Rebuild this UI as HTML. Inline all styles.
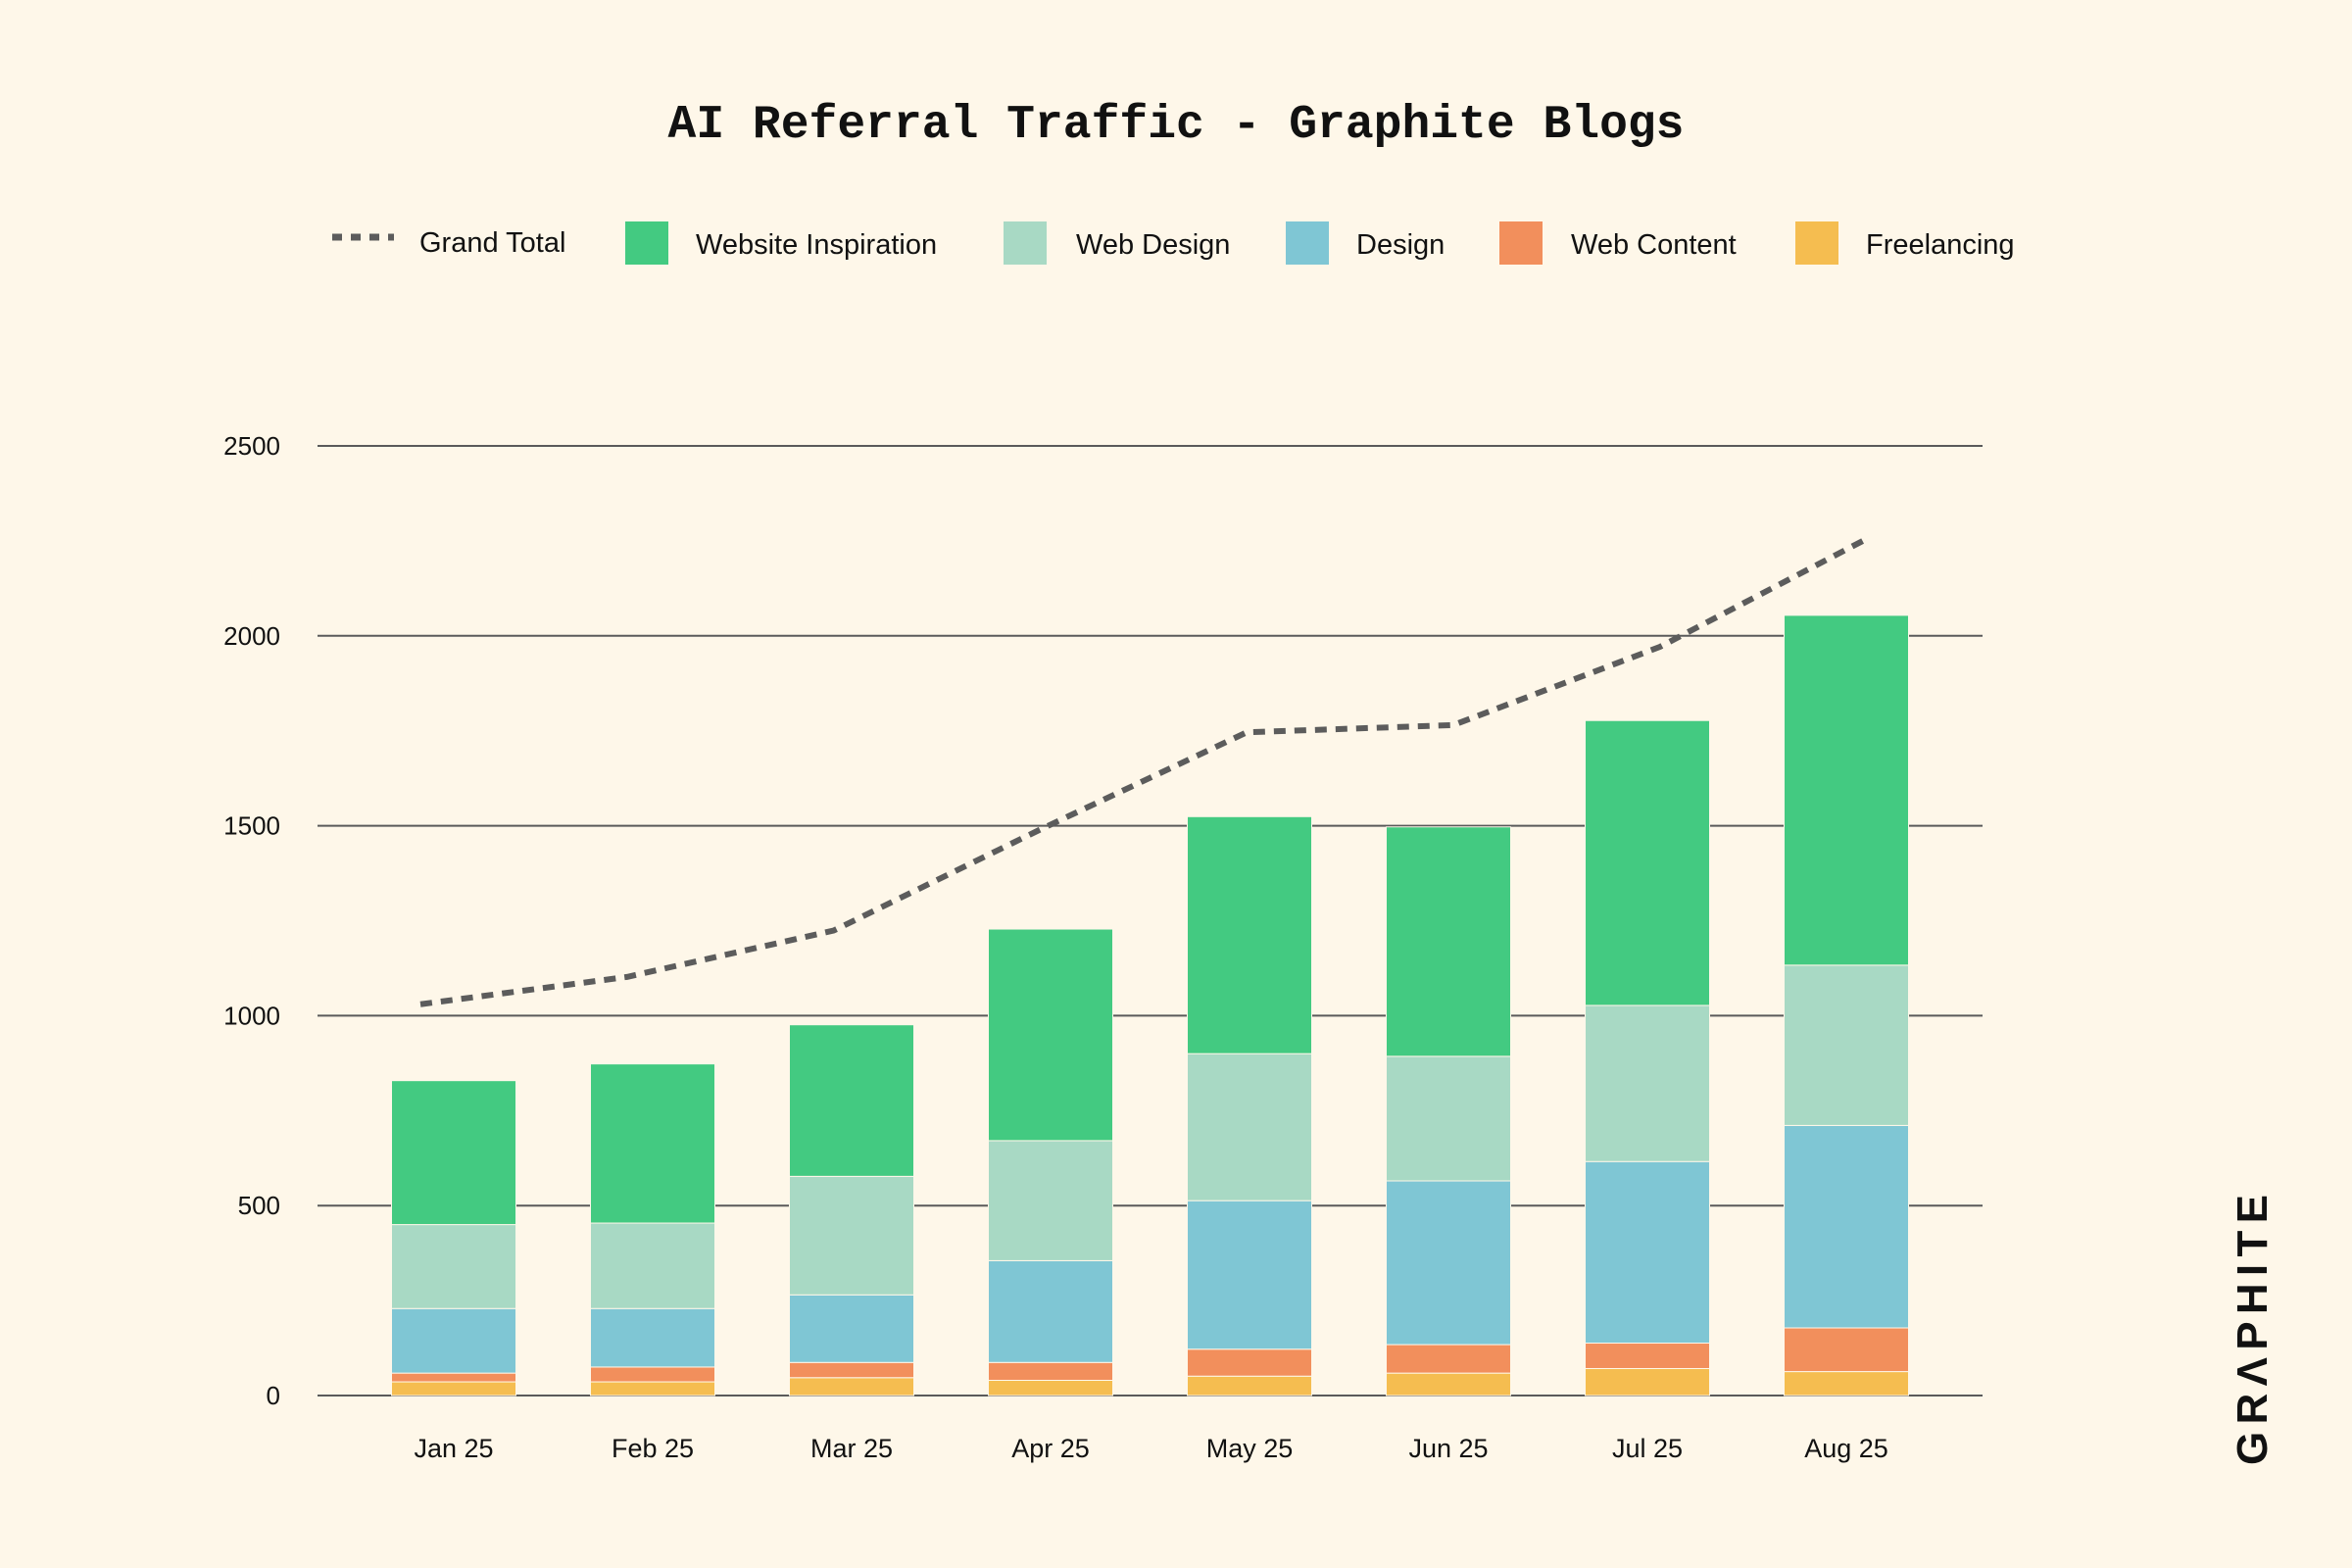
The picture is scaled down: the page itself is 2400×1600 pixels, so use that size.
<!DOCTYPE html>
<html><head><meta charset="utf-8"><style>
html,body{margin:0;padding:0;background:#fef7e9;}
svg{display:block;}
text{font-family:"Liberation Sans",sans-serif;}
</style></head><body>
<svg id="chart" width="2400" height="1600" viewBox="0 0 2400 1600" xmlns="http://www.w3.org/2000/svg">
<rect width="2400" height="1600" fill="#fef7e9"/>
<text x="1200" y="140" text-anchor="middle" font-weight="bold" font-size="48" fill="#111" style="font-family:'Liberation Mono',monospace">AI Referral Traffic - Graphite Blogs</text>
<g id="legend"></g>
<g id="grid"></g>
<g id="bars"></g>
<g id="line"></g>
<g id="xlabels"></g>
<text transform="translate(2313,1357) rotate(-90)" text-anchor="middle" font-weight="bold" font-size="44" fill="#111" textLength="276" lengthAdjust="spacing">GRΛPHITE</text>
</svg>
<script>
const categories = ["Jan 25","Feb 25","Mar 25","Apr 25","May 25","Jun 25","Jul 25","Aug 25"];
const freelancing = [36,36,47,40,51,59,71,63];
const webContent = [23,39,40,47,71,75,67,115];
const design = [170,154,178,268,391,431,478,533];
const webDesign = [221,225,312,316,387,328,411,422];
const websiteInspiration = [379,419,399,557,624,604,750,921];
const grandTotal = [1030,1102,1224,1490,1746,1765,1971,2255];
const yTicks = [0,500,1000,1500,2000,2500];

const NS="http://www.w3.org/2000/svg";
function mk(tag,attrs,parent){const e=document.createElementNS(NS,tag);for(const k in attrs)e.setAttribute(k,attrs[k]);parent.appendChild(e);return e;}
const x0=324,x1=2023,yBase=1424,yTop=455,yMax=2500;
const yScale=v=>yBase-(v/yMax)*(yBase-yTop);
const step=203;
const xCenter=i=>463+step*i;
const xLine=i=>429+210.8*i;
const barW=127;

const grid=document.getElementById('grid');
yTicks.forEach(t=>{
  const l=mk('line',{x1:x0,x2:x1,y1:yScale(t),y2:yScale(t),stroke:'#5a5a5a','stroke-width':2},grid);
  
  
  const tx=mk('text',{x:286,y:yScale(t)+9,'text-anchor':'end','font-size':26,fill:'#111'},grid);
  tx.textContent=t;
  
  
});

const series=[
  {name:'freelancing',vals:freelancing,color:'#f5bd50'},
  {name:'web-content',vals:webContent,color:'#f28f5c'},
  {name:'design',vals:design,color:'#7fc6d4'},
  {name:'web-design',vals:webDesign,color:'#a8d9c4'},
  {name:'website-inspiration',vals:websiteInspiration,color:'#43ca81'}
];
const bars=document.getElementById('bars');
const xl=document.getElementById('xlabels');
categories.forEach((c,i)=>{
  let cum=0;
  series.forEach(s=>{
    const v=s.vals[i];
    const yT=yScale(cum+v),yB=yScale(cum);
    const r=mk('rect',{x:xCenter(i)-barW/2,y:yT,width:barW,height:yB-yT,fill:s.color,stroke:'#fef7e9','stroke-width':1},bars);
    
    
    cum+=v;
  });
  const t=mk('text',{x:xCenter(i),y:1487,'text-anchor':'middle','font-size':27,fill:'#111'},xl);
  t.textContent=c;
  
  
});

const lg=document.getElementById('line');
const pts=grandTotal.map((v,i)=>xLine(i)+','+yScale(v)).join(' ');
const pl=mk('polyline',{points:pts,fill:'none',stroke:'#5c5c5c','stroke-width':6,'stroke-dasharray':'12 9'},lg);



const leg=document.getElementById('legend');
const ld=mk('line',{x1:339,x2:402,y1:242,y2:242,stroke:'#5c5c5c','stroke-width':7,'stroke-dasharray':'10 9'},leg);


const lt0=mk('text',{x:428,y:257,'font-size':29,fill:'#111'},leg);
lt0.textContent='Grand Total';


const legItems=[
  {label:'Website Inspiration',color:'#43ca81',sx:638,tx:710},
  {label:'Web Design',color:'#a8d9c4',sx:1024,tx:1098},
  {label:'Design',color:'#7fc6d4',sx:1312,tx:1384},
  {label:'Web Content',color:'#f28f5c',sx:1530,tx:1603},
  {label:'Freelancing',color:'#f5bd50',sx:1832,tx:1904}
];
legItems.forEach(it=>{
  const r=mk('rect',{x:it.sx,y:226,width:44,height:44,fill:it.color},leg);
  
  
  const t=mk('text',{x:it.tx,y:259,'font-size':29,fill:'#111'},leg);
  t.textContent=it.label;
  
  
});
</script>
</body></html>
